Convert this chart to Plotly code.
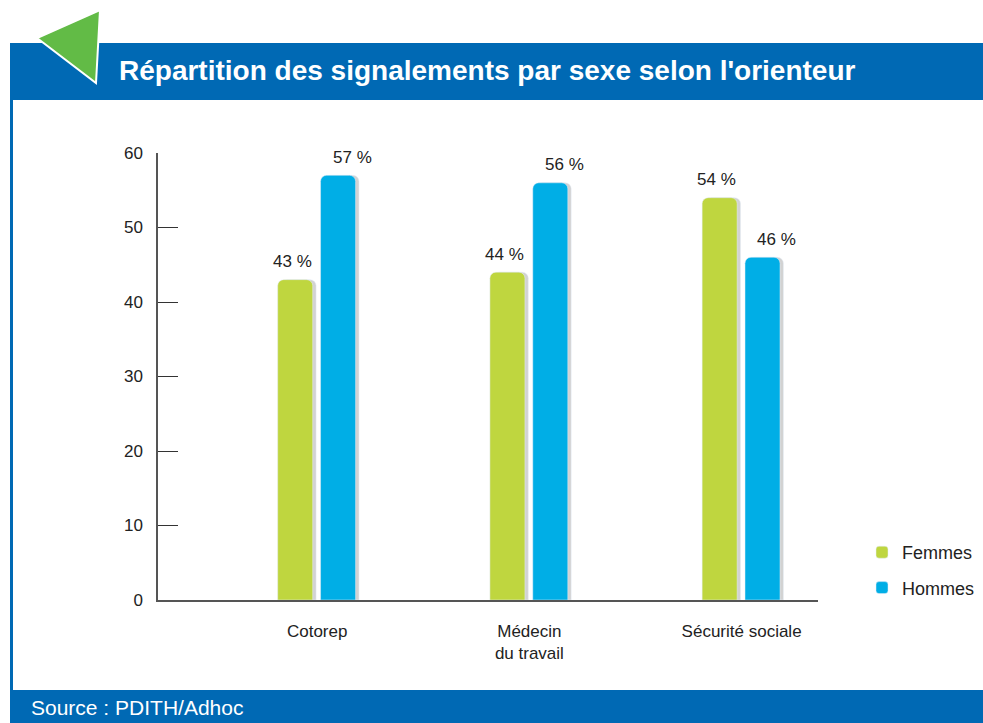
import plotly.graph_objects as go

categories = ["Cotorep", "Médecin<br>du travail", "Sécurité sociale"]
femmes = [43, 44, 54]
hommes = [57, 56, 46]
series_names = ["Femmes", "Hommes"]
y_ticks = [0, 10, 20, 30, 40, 50, 60]
title_text = "Répartition des signalements par sexe selon l'orienteur"
source_text = "Source : PDITH/Adhoc"

C_F = "#bfd63f"
C_H = "#00aee6"
C_SH = "#d2d2d2"
BLUE = "#0069b4"
FONT = "Liberation Sans Narrow, Arial Narrow, Liberation Sans, Arial, sans-serif"

W, H = 983, 723
L, R, T, B = 158, 165, 153, 123

def px(x):
    return (x - L) / (W - L - R)

def py(y):
    return (H - B - y) / (H - T - B)

xi = [0, 1, 2]
bw = 0.165
offF, offH = -0.186, 0.016
sh = 0.016

fig = go.Figure()
for vals, off in [(femmes, offF), (hommes, offH)]:
    fig.add_trace(go.Bar(x=xi, y=vals, width=bw, offset=off + sh, marker_color=C_SH,
                         showlegend=False, hoverinfo="skip"))
fig.add_trace(go.Bar(x=xi, y=femmes, width=bw, offset=offF, marker_color=C_F,
                     name=series_names[0], legendgroup="f"))
fig.add_trace(go.Bar(x=xi, y=hommes, width=bw, offset=offH, marker_color=C_H,
                     name=series_names[1], legendgroup="h"))

for vals, off, xs in [(femmes, offF, -3), (hommes, offH, 14)]:
    for i, v in enumerate(vals):
        fig.add_annotation(x=i + off + bw / 2, y=v, text=f"{v} %", showarrow=False,
                           yshift=18, xshift=xs, font=dict(family=FONT, size=17, color="#222"))

shapes = [
    dict(type="rect", xref="paper", yref="paper", x0=px(10), x1=px(983), y0=py(100), y1=py(43),
         fillcolor=BLUE, line_width=0, layer="below"),
    dict(type="rect", xref="paper", yref="paper", x0=px(10), x1=px(983), y0=py(723), y1=py(690),
         fillcolor=BLUE, line_width=0, layer="below"),
    dict(type="rect", xref="paper", yref="paper", x0=px(10), x1=px(13), y0=py(690), y1=py(100),
         fillcolor=BLUE, line_width=0, layer="below"),
    dict(type="path", xref="paper", yref="paper",
         path=f"M {px(37)} {py(38)} L {px(100)} {py(10)} L {px(96)} {py(83)} Z",
         fillcolor="#62bb46", line=dict(color="white", width=2)),
]

fig.add_annotation(xref="paper", yref="paper", x=px(117), y=py(71), xanchor="left", yanchor="middle",
                   text=f"<b>{title_text}</b>", showarrow=False,
                   font=dict(family="Liberation Sans, Arial, sans-serif", size=28, color="white"))
fig.add_annotation(xref="paper", yref="paper", x=px(29), y=py(707), xanchor="left", yanchor="middle",
                   text=source_text, showarrow=False,
                   font=dict(family="Liberation Sans, Arial, sans-serif", size=21, color="white"))

fig.update_layout(
    width=W, height=H,
    margin=dict(l=L, r=R, t=T, b=B, autoexpand=False),
    paper_bgcolor="white", plot_bgcolor="white",
    barmode="overlay", barcornerradius=6,
    shapes=shapes,
    showlegend=True,
    legend=dict(x=px(862), y=py(534), xanchor="left", yanchor="top",
                font=dict(family=FONT, size=18, color="#222"),
                traceorder="grouped", tracegroupgap=9, itemwidth=30,
                bgcolor="rgba(0,0,0,0)"),
    xaxis=dict(range=[-0.75, 2.36], tickmode="array", tickvals=xi, ticktext=categories,
               showline=True, linecolor="#555", linewidth=1.5, ticks="", showgrid=False,
               zeroline=False, tickfont=dict(family=FONT, size=17, color="#222"),
               ticklabelstandoff=15),
    yaxis=dict(range=[0, 60], tickvals=y_ticks, showline=True, linecolor="#555", linewidth=1.5,
               ticks="inside", ticklen=20, tickcolor="#333", tickwidth=1, showgrid=False,
               zeroline=False, tickfont=dict(family=FONT, size=17, color="#222"),
               ticklabelstandoff=10),
)

fig.write_html("out.html", config={"displayModeBar": False},
               post_script="document.body.style.margin='0';document.body.style.overflow='hidden';")
